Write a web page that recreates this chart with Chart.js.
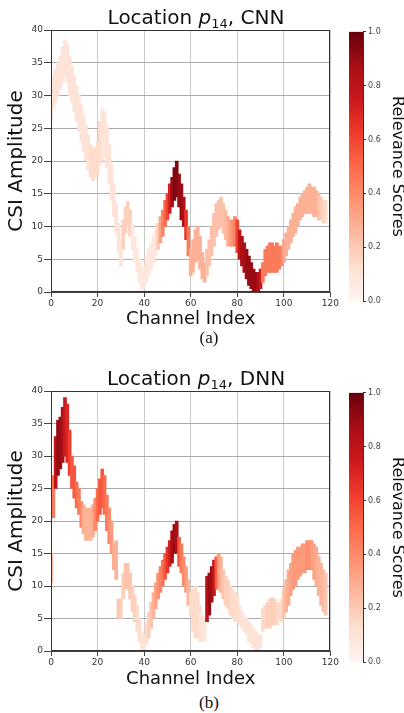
<!DOCTYPE html>
<html><head><meta charset="utf-8">
<script src="https://cdn.jsdelivr.net/npm/chart.js@4/dist/chart.umd.min.js"></script>
<style>
html,body{margin:0;padding:0;background:#fff;width:404px;height:713px;overflow:hidden;position:relative;}
canvas{position:absolute;}
.ttl{position:absolute;left:0;width:392px;text-align:center;font:20px 'DejaVu Sans';line-height:20px;color:#111;white-space:nowrap;}
.ttl sub{font-size:13px;vertical-align:-4px;line-height:0;}
.cap{position:absolute;left:0;width:418px;text-align:center;font:17px 'Liberation Serif';line-height:20px;color:#111;}
</style></head><body>
<canvas id="cA" width="340" height="330" style="left:0;top:0"></canvas>
<canvas id="cbA" width="70" height="285" style="left:340px;top:25px"></canvas>
<canvas id="cB" width="340" height="330" style="left:0;top:360px"></canvas>
<canvas id="cbB" width="70" height="285" style="left:340px;top:386px"></canvas>
<div class="ttl" style="top:7px">Location <i>p</i><sub>14</sub>, CNN</div>
<div class="cap" style="top:328px">(a)</div>
<div class="ttl" style="top:368px">Location <i>p</i><sub>14</sub>, DNN</div>
<div class="cap" style="top:693px">(b)</div>
<script>
// ---- data (per channel: amplitude band low/high, relevance) ----
const cnnLow = [
26,28,29,30,31,32,33,32,30,29,
27.5,26,24.5,23,21.5,20,18.5,17.5,17,17.5,
18,19.5,20,20.5,19,16.5,14,11.5,9,6,
4,6.5,9,10,8.5,6.5,4.5,3,1.5,0.3,
0.5,1.5,2.5,3.5,4.5,5.5,6.5,7.5,8.5,10,
11,12,13,14,14.5,13,11,10,8,5.5,
2.5,3,4.5,5,3.5,2,1.5,2.5,4,5.5,
7,8.5,9.5,10,9,8,7,7,7,7,
6,5,4,3,2,1,0.5,0,0,0,
0.5,1.5,2.5,3,3,3,3,3,3.5,4,
4.5,5.5,6.5,7.5,8.5,9,10,11,11.5,12,
12,12,12,11.5,11.5,11,11,10.5,10.5];
const cnnHigh = [
31,33,34,35,36,37.5,38.5,38,36,34.5,
33,31.5,30,28.5,27,25.5,24,22.5,22,22,
23,26,28,27.5,25.5,22.5,19.5,16.5,13.5,10.5,
8,11,13,13.8,12.5,10.5,8.5,6.5,5,3.5,
4,5.5,6.5,7.5,8.5,9.5,10.5,11.5,12.5,14,
15,16.5,17.5,19,20,18,16.5,14.5,12.5,10,
6.5,8,9.5,10,8.5,6,4.5,6.5,8,10,
12,13.5,14,14.5,13.5,12.5,11.5,11,11,11.5,
11,9.5,8.5,7.5,6.5,5.5,4.5,3.5,3,3,
3.5,4.5,6.5,7,7.5,7.5,7,7.5,7,7,
8,9,10,11,12,13,13.5,14.5,15,15.5,
16,16.5,16,16,15.5,15,14.5,14,14];
const cnnRel = [
0.1,0.1,0.1,0.1,0.1,0.1,0.1,0.1,0.1,0.1,
0.1,0.1,0.1,0.1,0.1,0.1,0.1,0.14,0.14,0.14,
0.14,0.14,0.1,0.1,0.1,0.1,0.1,0.1,0.1,0.1,
0.1,0.18,0.18,0.18,0.18,0.08,0.08,0.08,0.08,0.08,
0.08,0.08,0.08,0.08,0.08,0.08,0.2,0.32,0.42,0.5,
0.6,0.72,0.88,0.95,0.95,0.9,0.9,0.85,0.65,0.45,
0.28,0.28,0.28,0.28,0.28,0.28,0.28,0.23,0.23,0.23,
0.23,0.23,0.23,0.23,0.23,0.25,0.28,0.33,0.38,0.42,
0.6,0.78,0.85,0.85,0.9,0.9,0.9,0.9,0.9,0.85,
0.75,0.45,0.45,0.45,0.45,0.45,0.45,0.45,0.45,0.42,
0.32,0.28,0.28,0.28,0.28,0.28,0.28,0.28,0.28,0.28,
0.28,0.28,0.28,0.28,0.28,0.24,0.2,0.17,0.14];

const dnnLow = [
10.5,20.5,25,27,28,29,30,29,27,25,
23.5,22,21,19,18,17,17,17,17.5,18.5,
20,21,22,21,18.5,16.5,15,12.5,11,5,
5,8,9.5,9.5,8,6,4.5,3,1.5,0.3,
0,1,2,3.5,5,6.5,8,9,10,11,
12,13,13.5,15,15,13,12,10,9,7,
5.5,3,2,2,1.5,1.5,1.5,4.5,5.5,7.5,
8.5,9.5,9.5,9,8,7,6.5,5.5,5,4.5,
4.5,4,3.5,3,2.5,1.5,1,0.5,0,0,
0.5,3,3.5,3.5,3.5,4,4,4,4.5,4.5,
5,6,7,8.5,9.5,10,11,11.5,12,12,
12.5,12.5,12.5,11,10,8.5,7,6,5.5];
const dnnHigh = [
15,27,33,35.5,36,37.5,39,38,34,30,
28.5,26,25,23,22.5,22,22,22,22.5,23.5,
25,26.5,28,27,24,22,20,16.5,17,8,
8,12,13.5,13.5,12,10,8.5,7,5,3,
2.5,4.5,6,7.5,9,10.5,12,13,14,15,
16,17,18.5,19.5,20,17.5,16.5,14.5,13,11,
9,9.5,10,9,7,5.5,5,11.5,12,13,
14,14.5,15,14.5,12.5,11.5,11,10,9.5,9,
8.5,7,6,5.5,5,4.5,4,3.5,3,2.5,
2.5,6.5,7,7.5,8,8.2,8,7.5,7.5,8,
9.5,11,12.5,13.5,15,15.5,16,16,16.5,16.5,
17,17,17,16.5,16,14.5,13.5,12.5,12];
const dnnRel = [
0.32,0.45,0.8,0.9,0.9,0.85,0.75,0.7,0.62,0.55,
0.55,0.5,0.45,0.4,0.3,0.27,0.27,0.27,0.3,0.4,
0.5,0.55,0.55,0.5,0.45,0.4,0.35,0.3,0.27,0.22,
0.18,0.18,0.22,0.22,0.22,0.18,0.18,0.14,0.14,0.1,
0.1,0.14,0.18,0.22,0.27,0.32,0.37,0.42,0.47,0.55,
0.65,0.72,0.85,0.9,0.85,0.55,0.45,0.4,0.35,0.27,
0.14,0.14,0.14,0.14,0.12,0.1,0.1,0.8,0.9,0.88,
0.78,0.55,0.35,0.27,0.22,0.18,0.18,0.16,0.14,0.14,
0.14,0.12,0.1,0.1,0.1,0.1,0.11,0.11,0.11,0.11,
0.1,0.14,0.16,0.18,0.18,0.18,0.18,0.16,0.14,0.14,
0.22,0.27,0.3,0.32,0.35,0.35,0.35,0.35,0.35,0.35,
0.38,0.38,0.35,0.32,0.3,0.27,0.27,0.25,0.22];

const xTicks = [0,20,40,60,80,100,120];
const yTicks = [0,5,10,15,20,25,30,35,40];
const cbarTicks = [0,0.2,0.4,0.6,0.8,1.0];
const redsStops = ['#fff5f0','#fee0d2','#fcbba1','#fc9272','#fb6a4a','#ef3b2c','#cb181d','#a50f15','#67000d'];

function hexRgb(h){return [parseInt(h.slice(1,3),16),parseInt(h.slice(3,5),16),parseInt(h.slice(5,7),16)];}
function reds(t){
  t=Math.max(0,Math.min(1,t));
  const p=t*(redsStops.length-1), i=Math.min(Math.floor(p),redsStops.length-2), f=p-i;
  const a=hexRgb(redsStops[i]), b=hexRgb(redsStops[i+1]);
  return 'rgb('+a.map((v,k)=>Math.round(v+(b[k]-v)*f)).join(',')+')';
}

const FAM = "'DejaVu Sans'";
const frame = {
  id:'frame',
  afterDatasetsDraw(chart){
    const a=chart.chartArea, c=chart.ctx;
    c.save(); c.strokeStyle='#333'; c.lineWidth=1;
    c.strokeRect(Math.round(a.left)+0.5, Math.round(a.top)+0.5, Math.round(a.right-a.left)-1, Math.round(a.bottom-a.top)-1);
    c.restore();
  }
};

function panel(id, low, high, rel, padTop, xH){
  const channels = low.map((_, i) => i);
  new Chart(document.getElementById(id), {
    type:'bar',
    data:{datasets:[{
      data: channels.map(i => ({x:i, y:[low[i], high[i]]})),
      backgroundColor: rel.map(reds),
      borderWidth:0, barThickness:3, grouped:false
    }]},
    options:{
      responsive:false, animation:false, devicePixelRatio:1,
      layout:{padding:{top:padTop,right:8,left:0,bottom:0}},
      plugins:{legend:{display:false},tooltip:{enabled:false},title:{display:false}},
      scales:{
        x:{type:'linear',min:0,max:120,offset:false,
          afterBuildTicks:s=>{s.ticks=xTicks.map(v=>({value:v}));},
          grid:{offset:false,color:'#c8c8c8',tickLength:5,tickColor:'#444'},
          border:{color:'#444'},
          ticks:{font:{family:FAM,size:9},color:'#333',padding:1,maxRotation:0,autoSkip:false},
          title:{display:true,text:'Channel Index',font:{family:FAM,size:18},color:'#111',padding:{top:0,bottom:0}},
          afterFit:s=>{s.height=xH;}
        },
        y:{type:'linear',min:0,max:40,
          afterBuildTicks:s=>{s.ticks=yTicks.map(v=>({value:v}));},
          grid:{color:'#ababab',tickLength:7,tickColor:'#444'},
          border:{color:'#444'},
          ticks:{font:{family:FAM,size:9},color:'#333',padding:1},
          title:{display:true,text:'CSI Amplitude',font:{family:FAM,size:20},color:'#111',padding:{top:5,bottom:0}},
          afterFit:s=>{s.width=51;}
        }
      }
    },
    plugins:[frame]
  });
}

function colorbar(id){
  new Chart(document.getElementById(id), {
    type:'bar',
    data:{labels:['r'],datasets:[{
      data:[[cbarTicks[0], cbarTicks[cbarTicks.length-1]]],
      backgroundColor:(c)=>{
        const ch=c.chart, a=ch.chartArea;
        if(!a) return redsStops[4];
        const g=ch.ctx.createLinearGradient(0,a.bottom,0,a.top);
        redsStops.forEach((col,i)=>g.addColorStop(i/(redsStops.length-1),col));
        return g;
      },
      borderWidth:0,barPercentage:1,categoryPercentage:1
    }]},
    options:{
      responsive:false, animation:false, devicePixelRatio:1,
      layout:{padding:{left:9,top:5,bottom:9,right:0}},
      plugins:{legend:{display:false},tooltip:{enabled:false}},
      scales:{
        x:{display:false},
        y:{position:'right',min:0,max:1,
          afterBuildTicks:s=>{s.ticks=cbarTicks.map(v=>({value:v}));},
          ticks:{callback:v=>Number(v).toFixed(1),font:{family:FAM,size:8},color:'#444',padding:2},
          grid:{drawOnChartArea:false,tickLength:3,tickColor:'#333'},
          border:{color:'#333'},
          title:{display:true,text:'Relevance Scores',font:{family:FAM,size:16},color:'#111',padding:{top:3,bottom:0}},
          afterFit:s=>{s.width=47;}
        }
      }
    }
  });
}

panel('cA', cnnLow, cnnHigh, cnnRel, 30, 38);
panel('cB', dnnLow, dnnHigh, dnnRel, 31, 39);
colorbar('cbA');
colorbar('cbB');
</script>
</body></html>
